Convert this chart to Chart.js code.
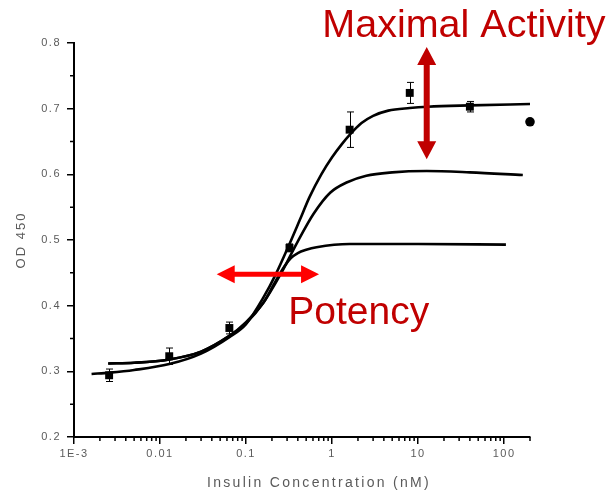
<!DOCTYPE html>
<html>
<head>
<meta charset="utf-8">
<script src="https://cdn.jsdelivr.net/npm/chart.js@4.4.1/dist/chart.umd.min.js"></script>
<style>
  html, body { margin: 0; padding: 0; background: #fff; }
  #wrap { width: 609px; height: 495px; }
</style>
</head>
<body>
<div id="wrap"><canvas id="doseChart"></canvas></div>
<script>
// --- measured OD450 vs insulin (5-fold dilutions) ---
const insulinNM = [0.00256, 0.0128, 0.064, 0.32, 1.6, 8, 40, 200];
const od450 = [0.294, 0.323, 0.366, 0.488, 0.668, 0.724, 0.703, 0.680];
const od450Err = [0.0095, 0.0125, 0.009, 0.006, 0.027, 0.016, 0.008, 0];

// --- fitted dose-response curves ---
const fullFitX = [0.0016, 0.0026, 0.005, 0.0128, 0.03, 0.064, 0.1, 0.16, 0.22, 0.32, 0.42, 0.55, 0.75, 1.0, 1.3, 1.6, 2.2, 3, 4.5, 8, 13, 40, 200];
const fullFitY = [0.296, 0.298, 0.302, 0.311, 0.327, 0.352, 0.372, 0.413, 0.447, 0.494, 0.530, 0.566, 0.600, 0.626, 0.646, 0.660, 0.678, 0.689, 0.697, 0.701, 0.703, 0.705, 0.707];

const midFitX = [0.0025, 0.005, 0.0128, 0.03, 0.064, 0.1, 0.16, 0.25, 0.4, 0.61, 0.95, 1.5, 2.5, 5, 12.6, 40, 165];
const midFitY = [0.312, 0.313, 0.318, 0.330, 0.354, 0.375, 0.405, 0.447, 0.498, 0.540, 0.572, 0.588, 0.598, 0.603, 0.605, 0.603, 0.599];

const lowFitX = [0.0025, 0.005, 0.0128, 0.03, 0.064, 0.1, 0.16, 0.22, 0.28, 0.33, 0.4, 0.5, 0.66, 1.6, 10, 105];
const lowFitY = [0.312, 0.313, 0.318, 0.330, 0.354, 0.373, 0.405, 0.437, 0.460, 0.472, 0.480, 0.485, 0.489, 0.494, 0.494, 0.493];

// --- axes ---
const xTickValues = [0.001, 0.01, 0.1, 1, 10, 100];
const xTickLabels = ['1E-3', '0.01', '0.1', '1', '10', '100'];
const yTickValues = [0.2, 0.3, 0.4, 0.5, 0.6, 0.7, 0.8];
const yMinorTicks = [0.25, 0.35, 0.45, 0.55, 0.65, 0.75];
const xAxisTitle = 'Insulin Concentration (nM)';
const yAxisTitle = 'OD 450';

// --- annotations (data units) ---
const maxArrow = { x: 12.6, yTop: 0.794, yBottom: 0.623 };
const potencyArrow = { xLeft: 0.0456, xRight: 0.706, y: 0.448 };
const maxLabel = { text: 'Maximal Activity', x: 0.77, y: 0.809 };
const potencyLabel = { text: 'Potency', x: 0.31, y: 0.372 };

const xMinorTicks = [];
[0.001, 0.01, 0.1, 1, 10, 100].forEach(d => {
    for (let k = 2; k <= 9; k++) {
        if (k * d <= 200) xMinorTicks.push(k * d);
    }
});

const toPoints = (xs, ys) => xs.map((x, i) => ({ x: x, y: ys[i] }));

const GRAY = '#5a5a5a';
const FONT = '"Liberation Sans", Arial, sans-serif';

function doubleArrow(ctx, x1, y1, x2, y2, shaft, headW, headL, color) {
    const len = Math.hypot(x2 - x1, y2 - y1);
    ctx.save();
    ctx.translate(x1, y1);
    ctx.rotate(Math.atan2(y2 - y1, x2 - x1));
    ctx.fillStyle = color;
    ctx.beginPath();
    ctx.moveTo(0, 0);
    ctx.lineTo(headL, -headW / 2);
    ctx.lineTo(headL, -shaft / 2);
    ctx.lineTo(len - headL, -shaft / 2);
    ctx.lineTo(len - headL, -headW / 2);
    ctx.lineTo(len, 0);
    ctx.lineTo(len - headL, headW / 2);
    ctx.lineTo(len - headL, shaft / 2);
    ctx.lineTo(headL, shaft / 2);
    ctx.lineTo(headL, headW / 2);
    ctx.closePath();
    ctx.fill();
    ctx.restore();
}

const decorations = {
    id: 'decorations',
    beforeDraw(chart) {
        // wide tracking for the axis labels
        chart.ctx.letterSpacing = '1.5px';
    },
    beforeDatasetsDraw(chart) {
        // error bars under the markers
        const { ctx, scales: { x, y } } = chart;
        ctx.save();
        ctx.letterSpacing = '0px';
        ctx.strokeStyle = '#000';
        ctx.lineWidth = 1;
        insulinNM.forEach((c, i) => {
            if (!od450Err[i]) return;
            const px = Math.round(x.getPixelForValue(c)) + 0.5;
            const top = y.getPixelForValue(od450[i] + od450Err[i]);
            const bot = y.getPixelForValue(od450[i] - od450Err[i]);
            ctx.beginPath();
            ctx.moveTo(px, top); ctx.lineTo(px, bot);
            ctx.moveTo(px - 3.5, top); ctx.lineTo(px + 3.5, top);
            ctx.moveTo(px - 3.5, bot); ctx.lineTo(px + 3.5, bot);
            ctx.stroke();
        });
        ctx.restore();
    },
    afterDraw(chart) {
        const { ctx, chartArea, scales: { x, y } } = chart;
        ctx.save();

        // minor ticks
        ctx.strokeStyle = '#000';
        ctx.lineWidth = 1.5;
        ctx.beginPath();
        xMinorTicks.forEach(v => {
            const px = x.getPixelForValue(v);
            ctx.moveTo(px, chartArea.bottom);
            ctx.lineTo(px, chartArea.bottom + 4);
        });
        yMinorTicks.forEach(v => {
            const py = y.getPixelForValue(v);
            ctx.moveTo(chartArea.left - 4, py);
            ctx.lineTo(chartArea.left, py);
        });
        ctx.stroke();

        // axis titles
        ctx.fillStyle = GRAY;
        ctx.textAlign = 'center';
        ctx.textBaseline = 'middle';
        ctx.font = '14px ' + FONT;
        ctx.letterSpacing = '2.3px';
        ctx.fillText(xAxisTitle, (chartArea.left + chartArea.right) / 2 + 17, 483);
        ctx.save();
        ctx.translate(21, (chartArea.top + chartArea.bottom) / 2);
        ctx.rotate(-Math.PI / 2);
        ctx.font = '13px ' + FONT;
        ctx.letterSpacing = '2px';
        ctx.fillText(yAxisTitle, 0, 0);
        ctx.restore();

        // arrows
        doubleArrow(ctx,
            x.getPixelForValue(maxArrow.x), y.getPixelForValue(maxArrow.yTop),
            x.getPixelForValue(maxArrow.x), y.getPixelForValue(maxArrow.yBottom),
            6, 19, 18, '#c00000');
        doubleArrow(ctx,
            x.getPixelForValue(potencyArrow.xLeft), y.getPixelForValue(potencyArrow.y),
            x.getPixelForValue(potencyArrow.xRight), y.getPixelForValue(potencyArrow.y),
            5, 18, 18, '#ff0000');

        // annotation text
        ctx.letterSpacing = '0px';
        ctx.fillStyle = '#c00000';
        ctx.textAlign = 'left';
        ctx.textBaseline = 'alphabetic';
        ctx.font = '39.5px ' + FONT;
        ctx.fillText(maxLabel.text, x.getPixelForValue(maxLabel.x), y.getPixelForValue(maxLabel.y));
        ctx.font = '39px ' + FONT;
        ctx.fillText(potencyLabel.text, x.getPixelForValue(potencyLabel.x), y.getPixelForValue(potencyLabel.y));
        ctx.restore();
    }
};

const curveStyle = {
    type: 'line',
    borderColor: '#000',
    borderWidth: 2.6,
    pointRadius: 0,
    cubicInterpolationMode: 'monotone',
    fill: false
};

new Chart(document.getElementById('doseChart'), {
    data: {
        datasets: [
            { ...curveStyle, label: 'Fit', data: toPoints(fullFitX, fullFitY) },
            { ...curveStyle, label: 'Partial', data: toPoints(midFitX, midFitY) },
            { ...curveStyle, label: 'Low', data: toPoints(lowFitX, lowFitY) },
            {
                type: 'scatter',
                label: 'OD 450',
                data: toPoints(insulinNM, od450),
                clip: false,
                pointStyle: insulinNM.map((_, i) => i === insulinNM.length - 1 ? 'circle' : 'rect'),
                pointRadius: insulinNM.map((_, i) => i === insulinNM.length - 1 ? 4.8 : 5.6),
                backgroundColor: '#000',
                borderColor: '#000',
                borderWidth: 0
            }
        ]
    },
    plugins: [decorations],
    options: {
        responsive: true,
        maintainAspectRatio: false,
        animation: false,
        layout: { padding: { top: 43, right: 79, left: 0, bottom: 0 } },
        font: { family: FONT },
        plugins: { legend: { display: false }, tooltip: { enabled: false } },
        scales: {
            x: {
                type: 'logarithmic',
                min: 0.001,
                max: 200,
                afterBuildTicks: s => { s.ticks = xTickValues.map(v => ({ value: v, major: true })); },
                afterFit: s => { s.height = 58; },
                ticks: {
                    autoSkip: false,
                    maxRotation: 0,
                    padding: 3,
                    color: GRAY,
                    font: { family: FONT, size: 11 },
                    callback: (v, i) => xTickLabels[i]
                },
                grid: { drawOnChartArea: false, drawTicks: true, tickLength: 7, tickColor: '#000', lineWidth: 1.5 },
                border: { display: true, color: '#000', width: 2 }
            },
            y: {
                type: 'linear',
                min: 0.2,
                max: 0.8,
                afterBuildTicks: s => { s.ticks = yTickValues.map(v => ({ value: v })); },
                afterFit: s => { s.width = 74; },
                ticks: {
                    padding: 6,
                    color: GRAY,
                    font: { family: FONT, size: 11 },
                    callback: v => v.toFixed(1)
                },
                grid: { drawOnChartArea: false, drawTicks: true, tickLength: 7, tickColor: '#000', lineWidth: 1.5 },
                border: { display: true, color: '#000', width: 2 }
            }
        }
    }
});
</script>
</body>
</html>
